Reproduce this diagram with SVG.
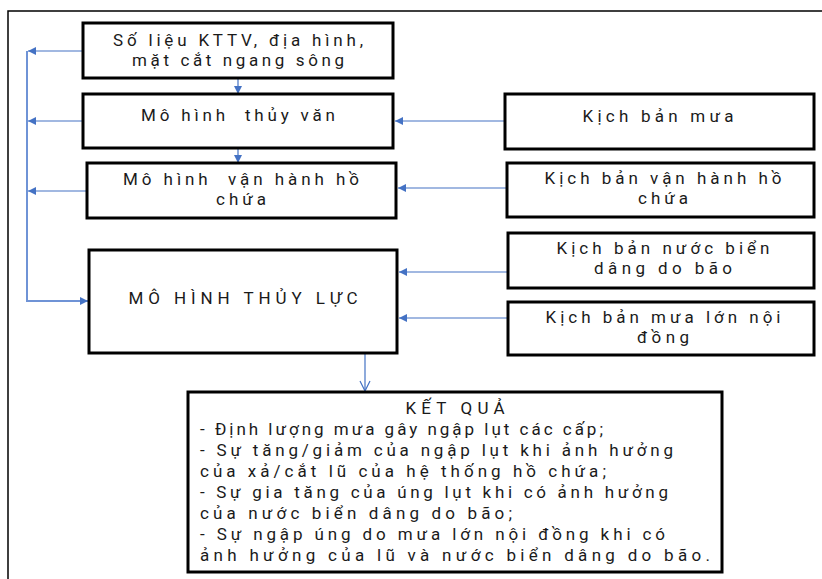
<svg xmlns="http://www.w3.org/2000/svg" width="822" height="579" viewBox="0 0 822 579">
<style>
.box{fill:#fff;stroke:#000;stroke-width:3}
.t{font-family:Roboto,"Open Sans","Liberation Sans",Arial,sans-serif;font-size:17px;fill:#1a1a1a}
.c{text-anchor:middle}
.ln{stroke:#4472C4;stroke-width:1.2;fill:none}
.lnb{stroke:#6F93D6;stroke-width:2;fill:none}
</style>
<defs>
<marker id="ah" viewBox="0 0 10 10" refX="10" refY="5" markerWidth="9" markerHeight="8" markerUnits="userSpaceOnUse" orient="auto">
<path d="M0,0 L10,5 L0,10 z" fill="#4472C4"/>
</marker>
<marker id="av" viewBox="0 0 12 12" refX="11" refY="6" markerWidth="12" markerHeight="12" markerUnits="userSpaceOnUse" orient="auto">
<path d="M1,1 L11,6 L1,11" fill="none" stroke="#4472C4" stroke-width="1.2"/>
</marker>
</defs>
<rect width="822" height="579" fill="#fff"/>
<path d="M8,579 V11 H822" fill="none" stroke="#000" stroke-width="1.5"/>

<g id="connectors">
<line class="ln" x1="238" y1="79" x2="238" y2="94" marker-end="url(#ah)"/>
<line class="ln" x1="238" y1="149" x2="238" y2="163" marker-end="url(#ah)"/>
<line class="ln" x1="82" y1="51" x2="28" y2="51" marker-end="url(#ah)"/>
<line class="ln" x1="82" y1="121" x2="28" y2="121" marker-end="url(#ah)"/>
<line class="ln" x1="86" y1="191" x2="28" y2="191" marker-end="url(#ah)"/>
<path class="lnb" d="M27,51 V301 H88" marker-end="url(#ah)"/>
<line class="ln" x1="505" y1="121" x2="395" y2="121" marker-end="url(#ah)"/>
<line class="ln" x1="507" y1="188" x2="398" y2="188" marker-end="url(#ah)"/>
<line class="ln" x1="508" y1="272" x2="399" y2="272" marker-end="url(#ah)"/>
<line class="ln" x1="508" y1="318" x2="399" y2="318" marker-end="url(#ah)"/>
<line class="ln" x1="365" y1="354" x2="365" y2="391" marker-end="url(#av)"/>
</g>

<g id="n-solieu">
<rect class="box" x="83" y="23" width="310" height="55"/>
<text class="t c" x="238" y="46" textLength="250">Số liệu KTTV, địa hình,</text>
<text class="t c" x="238" y="66" textLength="212">mặt cắt ngang sông</text>
</g>
<g id="n-thuyvan">
<rect class="box" x="83" y="94" width="310" height="54"/>
<text class="t c" x="238" y="121" textLength="194" xml:space="preserve">Mô hình  thủy văn</text>
</g>
<g id="n-vanhanh">
<rect class="box" x="87" y="163" width="309" height="55"/>
<text class="t c" x="241" y="185" textLength="236" xml:space="preserve">Mô hình  vận hành hồ</text>
<text class="t c" x="241" y="205" textLength="50">chứa</text>
</g>
<g id="n-thuyluc">
<rect class="box" x="89" y="250" width="308" height="103"/>
<text class="t c" x="243" y="304" textLength="229">MÔ HÌNH THỦY LỰC</text>
</g>
<g id="n-kbmua">
<rect class="box" x="505" y="94" width="309" height="55"/>
<text class="t c" x="658" y="122" textLength="151">Kịch bản mưa</text>
</g>
<g id="n-kbvanhanh">
<rect class="box" x="507" y="163" width="307" height="54"/>
<text class="t c" x="663" y="184" textLength="237">Kịch bản vận hành hồ</text>
<text class="t c" x="663" y="204" textLength="50">chứa</text>
</g>
<g id="n-kbnuocbien">
<rect class="box" x="508" y="233" width="306" height="55"/>
<text class="t c" x="663" y="254" textLength="213">Kịch bản nước biển</text>
<text class="t c" x="663" y="274" textLength="138">dâng do bão</text>
</g>
<g id="n-kbmualon">
<rect class="box" x="508" y="302" width="306" height="53"/>
<text class="t c" x="663" y="323" textLength="235">Kịch bản mưa lớn nội</text>
<text class="t c" x="663" y="343" textLength="52">đồng</text>
</g>
<g id="n-ketqua">
<rect class="box" x="188" y="392" width="534" height="180"/>
<text class="t c" x="455" y="414" textLength="99">KẾT QUẢ</text>
<text class="t" x="200" y="435" textLength="403">- Định lượng mưa gây ngập lụt các cấp;</text>
<text class="t" x="200" y="456" textLength="473">- Sự tăng/giảm của ngập lụt khi ảnh hưởng</text>
<text class="t" x="200" y="477" textLength="406">của xả/cắt lũ của hệ thống hồ chứa;</text>
<text class="t" x="200" y="498" textLength="468">- Sự gia tăng của úng lụt khi có ảnh hưởng</text>
<text class="t" x="200" y="519" textLength="312">của nước biển dâng do bão;</text>
<text class="t" x="200" y="540" textLength="465">- Sự ngập úng do mưa lớn nội đồng khi có</text>
<text class="t" x="200" y="561" textLength="510">ảnh hưởng của lũ và nước biển dâng do bão.</text>
</g>
</svg>
